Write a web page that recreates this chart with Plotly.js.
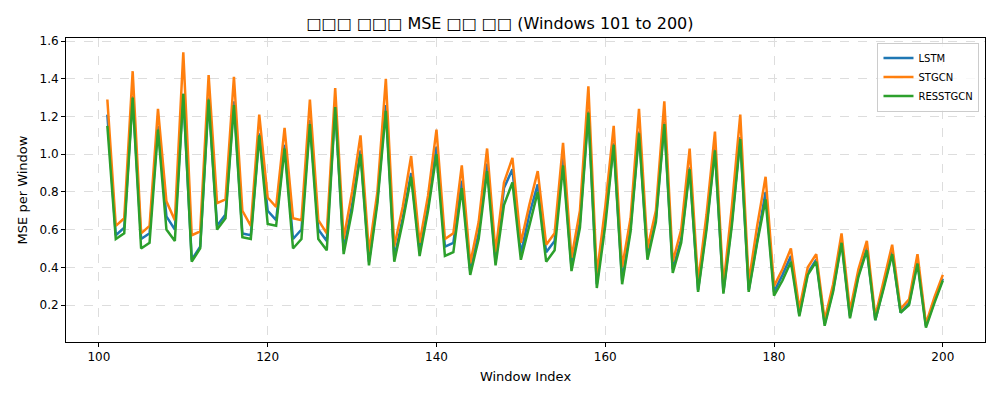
<!DOCTYPE html>
<html>
<head>
<meta charset="utf-8">
<script src="https://cdn.plot.ly/plotly-3.0.1.min.js"></script>
<style>body{margin:0;background:#fff}#chart{width:1000px;height:400px}</style>
</head>
<body>
<div id="chart"></div>
<script>
// Window indices 101..200
const windowIndex = [];
for (let i = 101; i <= 200; i++) windowIndex.push(i);

const lstm = [
    1.21, 0.57, 0.61, 1.31, 0.55, 0.58, 1.15, 0.67, 0.60, 1.32,
    0.44, 0.51, 1.30, 0.62, 0.68, 1.28, 0.58, 0.57, 1.11, 0.70,
    0.65, 1.05, 0.55, 0.60, 1.18, 0.60, 0.54, 1.25, 0.49, 0.73,
    1.02, 0.43, 0.76, 1.26, 0.45, 0.66, 0.90, 0.49, 0.72, 1.04,
    0.51, 0.53, 0.86, 0.38, 0.58, 0.95, 0.43, 0.82, 0.92, 0.47,
    0.68, 0.84, 0.48, 0.54, 0.98, 0.40, 0.64, 1.23, 0.31, 0.66,
    1.06, 0.33, 0.61, 1.12, 0.46, 0.66, 1.17, 0.39, 0.55, 0.93,
    0.28, 0.62, 1.03, 0.27, 0.64, 1.09, 0.28, 0.55, 0.80, 0.27,
    0.36, 0.46, 0.15, 0.37, 0.44, 0.10, 0.28, 0.54, 0.14, 0.36,
    0.50, 0.12, 0.30, 0.48, 0.16, 0.21, 0.43, 0.09, 0.22, 0.34
];
const stgcn = [
    1.29, 0.62, 0.66, 1.44, 0.58, 0.62, 1.24, 0.75, 0.65, 1.54,
    0.57, 0.59, 1.42, 0.74, 0.76, 1.41, 0.70, 0.62, 1.21, 0.77,
    0.72, 1.14, 0.66, 0.65, 1.29, 0.65, 0.58, 1.35, 0.55, 0.80,
    1.10, 0.48, 0.80, 1.40, 0.51, 0.72, 0.99, 0.53, 0.78, 1.13,
    0.55, 0.58, 0.94, 0.42, 0.64, 1.03, 0.48, 0.85, 0.98, 0.53,
    0.73, 0.91, 0.52, 0.58, 1.06, 0.45, 0.70, 1.36, 0.36, 0.72,
    1.15, 0.40, 0.66, 1.24, 0.50, 0.70, 1.28, 0.43, 0.60, 1.03,
    0.32, 0.68, 1.12, 0.30, 0.72, 1.21, 0.32, 0.62, 0.88, 0.30,
    0.39, 0.50, 0.18, 0.40, 0.47, 0.12, 0.31, 0.58, 0.17, 0.39,
    0.54, 0.14, 0.33, 0.52, 0.18, 0.23, 0.47, 0.10, 0.24, 0.36
];
const resstgcn = [
    1.15, 0.55, 0.58, 1.30, 0.50, 0.53, 1.13, 0.60, 0.54, 1.32,
    0.43, 0.50, 1.29, 0.60, 0.66, 1.26, 0.56, 0.55, 1.10, 0.63,
    0.62, 1.03, 0.50, 0.55, 1.16, 0.55, 0.49, 1.25, 0.47, 0.70,
    1.00, 0.41, 0.74, 1.23, 0.43, 0.64, 0.88, 0.46, 0.70, 1.00,
    0.46, 0.48, 0.82, 0.36, 0.55, 0.91, 0.41, 0.73, 0.85, 0.44,
    0.62, 0.80, 0.43, 0.49, 0.94, 0.38, 0.61, 1.22, 0.29, 0.62,
    1.05, 0.31, 0.59, 1.11, 0.44, 0.64, 1.16, 0.37, 0.53, 0.92,
    0.27, 0.60, 1.02, 0.26, 0.62, 1.08, 0.27, 0.53, 0.76, 0.25,
    0.33, 0.43, 0.14, 0.36, 0.43, 0.09, 0.27, 0.53, 0.13, 0.35,
    0.49, 0.12, 0.29, 0.47, 0.16, 0.20, 0.42, 0.08, 0.21, 0.33
];

const series = [
    { name: 'LSTM', y: lstm, color: '#1f77b4' },
    { name: 'STGCN', y: stgcn, color: '#ff7f0e' },
    { name: 'RESSTGCN', y: resstgcn, color: '#2ca02c' }
];

const traces = series.map(s => ({
    x: windowIndex,
    y: s.y,
    name: s.name,
    type: 'scatter',
    mode: 'lines',
    line: { color: s.color, width: 2.5 }
}));

const font = { family: 'DejaVu Sans', color: '#000' };

const axisStyle = {
    showline: true,
    mirror: true,
    linecolor: '#000',
    linewidth: 1,
    ticks: 'outside',
    ticklen: 4,
    tickcolor: '#000',
    gridcolor: '#dddddd',
    griddash: 'dash',
    zeroline: false,
    tickfont: { size: 12 }
};

const layout = {
    width: 1000,
    height: 400,
    paper_bgcolor: '#fff',
    plot_bgcolor: '#fff',
    font: font,
    title: { text: '□□□ □□□ MSE □□ □□ (Windows 101 to 200)', font: { size: 16 }, x: 0.5, y: 0.955 },
    margin: { l: 66, r: 15, t: 38, b: 58 },
    xaxis: Object.assign({}, axisStyle, {
        range: [96.1, 205.0],
        tickvals: [100, 120, 140, 160, 180, 200],
        title: { text: 'Window Index', font: { size: 13 }, standoff: 8 }
    }),
    yaxis: Object.assign({}, axisStyle, {
        range: [0.004, 1.616],
        tickvals: [0.2, 0.4, 0.6, 0.8, 1.0, 1.2, 1.4, 1.6],
        tickformat: '.1f',
        title: { text: 'MSE per Window', font: { size: 13 }, standoff: 8 }
    }),
    legend: {
        x: 0.994, y: 0.985, xanchor: 'right', yanchor: 'top',
        bordercolor: '#cccccc', borderwidth: 1,
        bgcolor: 'rgba(255,255,255,0.8)',
        font: { size: 10 }
    },
    showlegend: true
};

Plotly.newPlot('chart', traces, layout, { displayModeBar: false, staticPlot: true });
</script>
</body>
</html>
